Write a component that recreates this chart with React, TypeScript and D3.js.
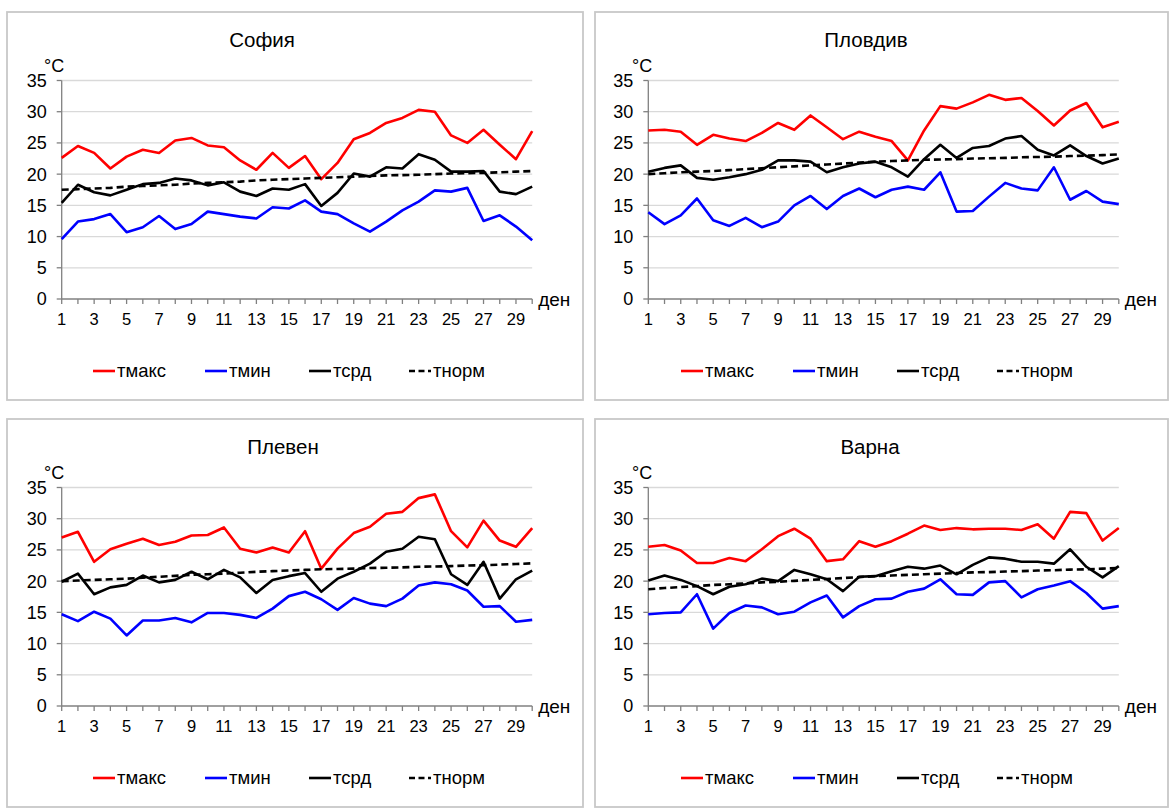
import React from "react";
import * as d3 from "d3";

const days = d3.range(1, 31);
const xTickLabels = [1, 3, 5, 7, 9, 11, 13, 15, 17, 19, 21, 23, 25, 27, 29];
const yTicks = [0, 5, 10, 15, 20, 25, 30, 35];
const seriesNames = ["тмакс", "тмин", "тсрд", "тнорм"];
const cityNames = ["София", "Пловдив", "Плевен", "Варна"];

const sofiaMax = [22.6, 24.5, 23.4, 20.9, 22.8, 23.9, 23.4, 25.4, 25.8, 24.6, 24.3, 22.2, 20.7, 23.4, 21.0, 22.9, 19.2, 21.8, 25.6, 26.6, 28.2, 29.0, 30.3, 30.0, 26.2, 25.0, 27.1, 24.7, 22.4, 26.9];
const sofiaMin = [9.6, 12.4, 12.8, 13.6, 10.7, 11.5, 13.3, 11.2, 12.0, 14.0, 13.6, 13.2, 12.9, 14.7, 14.5, 15.8, 14.0, 13.6, 12.1, 10.8, 12.4, 14.2, 15.6, 17.4, 17.2, 17.8, 12.5, 13.4, 11.6, 9.4];
const sofiaAvg = [15.4, 18.3, 17.1, 16.6, 17.5, 18.4, 18.6, 19.3, 19.0, 18.2, 18.7, 17.2, 16.5, 17.7, 17.5, 18.4, 14.9, 17.0, 20.1, 19.6, 21.1, 20.9, 23.2, 22.3, 20.4, 20.4, 20.5, 17.2, 16.8, 18.0];
const sofiaNorm = [17.5, 17.6, 17.7, 17.8, 18.0, 18.1, 18.2, 18.3, 18.5, 18.6, 18.7, 18.8, 19.0, 19.1, 19.2, 19.3, 19.4, 19.5, 19.6, 19.7, 19.8, 19.85, 19.9, 20.0, 20.1, 20.15, 20.2, 20.3, 20.4, 20.5];

const plovdivMax = [27.0, 27.1, 26.8, 24.7, 26.3, 25.7, 25.3, 26.6, 28.2, 27.1, 29.4, 27.5, 25.6, 26.8, 26.0, 25.3, 22.2, 27.0, 30.9, 30.5, 31.5, 32.7, 31.9, 32.2, 30.1, 27.8, 30.2, 31.4, 27.5, 28.4];
const plovdivMin = [13.9, 12.0, 13.4, 16.1, 12.6, 11.7, 13.0, 11.5, 12.4, 15.0, 16.5, 14.4, 16.5, 17.7, 16.3, 17.5, 18.0, 17.5, 20.3, 14.0, 14.1, 16.4, 18.6, 17.7, 17.4, 21.1, 15.9, 17.3, 15.6, 15.2];
const plovdivAvg = [20.4, 21.0, 21.4, 19.4, 19.1, 19.5, 20.0, 20.7, 22.2, 22.2, 22.0, 20.3, 21.1, 21.7, 22.0, 21.1, 19.6, 22.4, 24.7, 22.6, 24.2, 24.5, 25.7, 26.1, 23.9, 23.0, 24.6, 22.9, 21.7, 22.5];
const plovdivNorm = [20.0, 20.15, 20.3, 20.4, 20.5, 20.65, 20.8, 20.95, 21.1, 21.25, 21.4, 21.55, 21.7, 21.85, 22.0, 22.1, 22.2, 22.3, 22.35, 22.4, 22.5, 22.55, 22.6, 22.7, 22.75, 22.8, 22.9, 22.95, 23.05, 23.15];

const plevenMax = [27.0, 27.9, 23.1, 25.1, 26.0, 26.8, 25.8, 26.3, 27.3, 27.4, 28.6, 25.2, 24.6, 25.4, 24.6, 28.0, 22.0, 25.2, 27.7, 28.7, 30.8, 31.1, 33.3, 33.9, 28.0, 25.4, 29.7, 26.5, 25.5, 28.5];
const plevenMin = [14.7, 13.6, 15.1, 14.0, 11.3, 13.7, 13.7, 14.1, 13.4, 14.9, 14.9, 14.6, 14.1, 15.6, 17.6, 18.3, 17.1, 15.4, 17.3, 16.4, 16.0, 17.2, 19.3, 19.8, 19.5, 18.5, 15.9, 16.0, 13.5, 13.8];
const plevenAvg = [19.9, 21.2, 17.9, 19.0, 19.4, 20.9, 19.8, 20.2, 21.5, 20.3, 21.8, 20.6, 18.1, 20.2, 20.8, 21.3, 18.3, 20.4, 21.5, 22.8, 24.7, 25.2, 27.1, 26.7, 21.1, 19.4, 23.1, 17.2, 20.3, 21.7];
const plevenNorm = [20.0, 20.1, 20.2, 20.3, 20.4, 20.55, 20.7, 20.85, 21.0, 21.1, 21.2, 21.35, 21.5, 21.6, 21.7, 21.8, 21.9, 21.95, 22.0, 22.1, 22.15, 22.2, 22.3, 22.35, 22.4, 22.5, 22.55, 22.65, 22.75, 22.85];

const varnaMax = [25.5, 25.8, 24.9, 22.9, 22.9, 23.7, 23.2, 25.1, 27.2, 28.4, 26.8, 23.2, 23.5, 26.4, 25.5, 26.4, 27.6, 28.9, 28.2, 28.5, 28.3, 28.4, 28.4, 28.2, 29.1, 26.8, 31.1, 30.9, 26.5, 28.5];
const varnaMin = [14.7, 14.9, 15.0, 17.9, 12.4, 14.9, 16.1, 15.8, 14.7, 15.1, 16.6, 17.7, 14.2, 16.0, 17.1, 17.2, 18.3, 18.8, 20.3, 17.9, 17.8, 19.8, 20.0, 17.4, 18.7, 19.3, 20.0, 18.1, 15.6, 16.0];
const varnaAvg = [20.1, 20.9, 20.2, 19.2, 17.9, 19.1, 19.5, 20.4, 20.0, 21.8, 21.1, 20.3, 18.4, 20.7, 20.8, 21.6, 22.3, 22.0, 22.5, 21.1, 22.6, 23.8, 23.6, 23.1, 23.1, 22.8, 25.1, 22.3, 20.6, 22.4];
const varnaNorm = [18.7, 18.9, 19.05, 19.2, 19.4, 19.5, 19.65, 19.8, 19.9, 20.05, 20.2, 20.35, 20.5, 20.65, 20.8, 20.9, 21.0, 21.1, 21.2, 21.3, 21.4, 21.45, 21.55, 21.6, 21.7, 21.75, 21.85, 21.9, 22.0, 22.1];

const cityData = [
  [sofiaMax, sofiaMin, sofiaAvg, sofiaNorm],
  [plovdivMax, plovdivMin, plovdivAvg, plovdivNorm],
  [plevenMax, plevenMin, plevenAvg, plevenNorm],
  [varnaMax, varnaMin, varnaAvg, varnaNorm],
];

const seriesColors = ["#ff0000", "#0000ff", "#000000", "#000000"];
const FONT = "'Liberation Sans', Arial, sans-serif";

// panel geometry
const panels = [
  { x0: 7, y0: 12, w: 576, h: 388, titleX: 262 },
  { x0: 595, y0: 12, w: 573, h: 388, titleX: 866 },
  { x0: 7, y0: 419, w: 576, h: 388, titleX: 283 },
  { x0: 595, y0: 419, w: 573, h: 388, titleX: 870 },
];

function Panel({ idx }: { idx: number }) {
  const p = panels[idx];
  const data = cityData[idx];
  const axisX = p.x0 + (idx % 2 === 0 ? 54.7 : 53.3);
  const plotW = 470.5;
  const x = d3.scaleLinear().domain([1, 30]).range([axisX, axisX + plotW]);
  const y = d3.scaleLinear().domain([0, 35]).range([p.y0 + 287, p.y0 + 68.5]);
  const line = d3
    .line<number>()
    .x((_, i) => x(days[i]))
    .y((v) => y(v));
  const legendX = [86, 198, 302, 402];
  const ly = p.y0 + 359;
  return (
    <g>
      <rect x={p.x0} y={p.y0} width={p.w} height={p.h} fill="#fff" stroke="#c8c8c8" strokeWidth={1.8} />
      <text x={p.titleX} y={p.y0 + 35} textAnchor="middle" fontSize={20.5} fontFamily={FONT} fill="#000">
        {cityNames[idx]}
      </text>
      <text x={p.x0 + 37} y={p.y0 + 60} fontSize={18} fontFamily={FONT} fill="#000">
        °C
      </text>
      {yTicks.filter((t) => t > 0).map((t) => (
        <line key={"g" + t} x1={axisX} x2={axisX + plotW} y1={y(t)} y2={y(t)} stroke="#d9d9d9" strokeWidth={1.3} />
      ))}
      {yTicks.map((t) => (
        <g key={"yt" + t}>
          <line x1={axisX - 5} x2={axisX} y1={y(t)} y2={y(t)} stroke="#808080" strokeWidth={1.3} />
          <text x={axisX - 15} y={y(t)} dy="0.36em" textAnchor="end" fontSize={18} fontFamily={FONT} fill="#000">
            {t}
          </text>
        </g>
      ))}
      <line x1={axisX} x2={axisX} y1={y(35)} y2={y(0)} stroke="#808080" strokeWidth={1.3} />
      <line x1={axisX} x2={axisX + plotW} y1={y(0)} y2={y(0)} stroke="#808080" strokeWidth={1.3} />
      {days.map((d) => (
        <line key={"xt" + d} x1={x(d)} x2={x(d)} y1={y(0)} y2={y(0) + 5} stroke="#808080" strokeWidth={1.3} />
      ))}
      {xTickLabels.map((d) => (
        <text key={"xl" + d} x={x(d)} y={y(0) + 26} textAnchor="middle" fontSize={16.5} fontFamily={FONT} fill="#000">
          {d}
        </text>
      ))}
      <text x={axisX + plotW + 6} y={y(0)} dy="0.35em" fontSize={19} fontFamily={FONT} fill="#000">
        ден
      </text>
      {data.map((s, si) => (
        <path
          key={"s" + si}
          d={line(s) || ""}
          fill="none"
          stroke={seriesColors[si]}
          strokeWidth={2.6}
          strokeDasharray={si === 3 ? "7,4" : undefined}
          strokeLinejoin="round"
        />
      ))}
      {seriesNames.map((n, si) => (
        <g key={"lg" + si}>
          <line
            x1={p.x0 + legendX[si]}
            x2={p.x0 + legendX[si] + 22}
            y1={ly}
            y2={ly}
            stroke={seriesColors[si]}
            strokeWidth={2.6}
            strokeDasharray={si === 3 ? "6,3.5" : undefined}
          />
          <text x={p.x0 + legendX[si] + 24} y={ly} dy="0.35em" fontSize={18.5} fontFamily={FONT} fill="#000">
            {n}
          </text>
        </g>
      ))}
    </g>
  );
}

export default function App() {
  return (
    <svg
      width={1169}
      height={810}
      style={{ position: "absolute", left: 0, top: 0, background: "#fff" }}
    >
      <rect x={0} y={0} width={1169} height={810} fill="#fff" />
      {panels.map((_, i) => (
        <Panel key={i} idx={i} />
      ))}
    </svg>
  );
}
